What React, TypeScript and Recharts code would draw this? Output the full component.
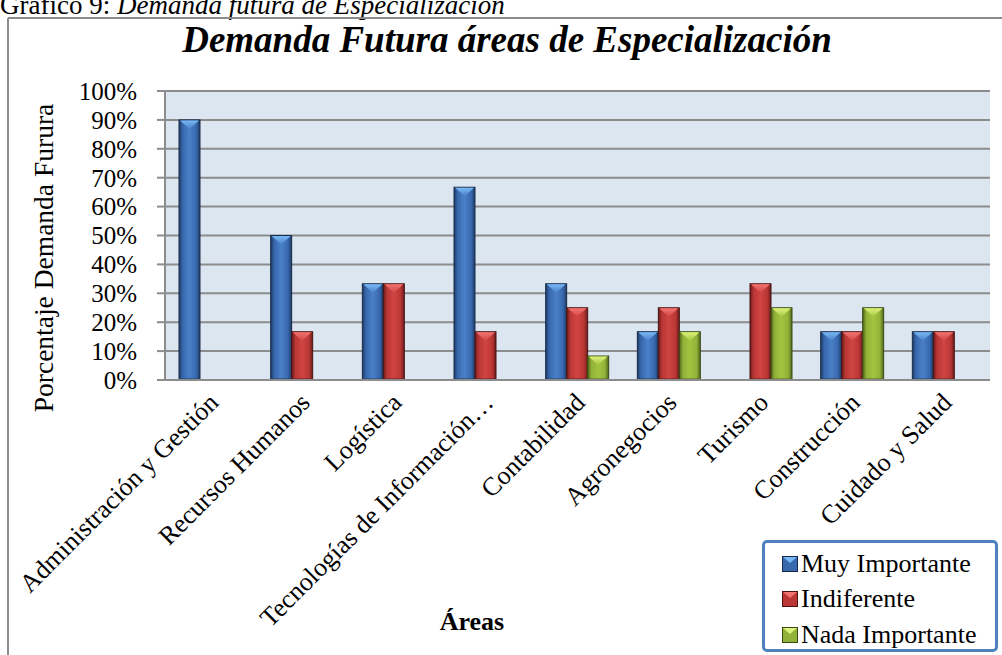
import React from 'react';
import { BarChart, Bar, XAxis, YAxis, CartesianGrid, Legend } from 'recharts';

const categories = [
  'Administración y Gestión',
  'Recursos Humanos',
  'Logística',
  'Tecnologías de Información…',
  'Contabilidad',
  'Agronegocios',
  'Turismo',
  'Construcción',
  'Cuidado y Salud',
];
const muyImportante = [90, 50, 33.3, 66.7, 33.3, 16.7, 0, 16.7, 16.7];
const indiferente = [0, 16.7, 33.3, 16.7, 25, 25, 33.3, 16.7, 16.7];
const nadaImportante = [0, 0, 0, 0, 8.3, 16.7, 25, 25, 0];
const yTicks = [0, 10, 20, 30, 40, 50, 60, 70, 80, 90, 100];
const seriesNames = ['Muy Importante', 'Indiferente', 'Nada Importante'];

const data = categories.map((area, i) => ({
  area,
  muy: muyImportante[i],
  ind: indiferente[i],
  nada: nadaImportante[i],
}));

const FONT = '"Liberation Serif", "Times New Roman", serif';

const palettes: Record<string, { dark: string; mid: string; light: string; tip: string; edge: string }> = {
  blue: { dark: '#1E3C66', mid: '#3868AE', light: '#4A80C8', tip: '#78B8F4', edge: '#162A48' },
  red: { dark: '#6A1C1B', mid: '#BA3735', light: '#D04442', tip: '#F27472', edge: '#4A1312' },
  green: { dark: '#52661C', mid: '#90B238', light: '#A3C441', tip: '#DDF27A', edge: '#3A4A12' },
};

const makeShape = (key: string) => (props: any) => {
  const { x, y, width, height } = props;
  if (!height || height <= 0.5) return <g />;
  const p = palettes[key];
  const tri = Math.min(9, height);
  return (
    <g>
      <rect x={x} y={y} width={width} height={height} fill={`url(#body-${key})`} stroke={p.edge} strokeWidth={1} />
      <polygon
        points={`${x + 1},${y + 0.6} ${x + width - 1},${y + 0.6} ${x + width / 2},${y + tri}`}
        fill={`url(#tip-${key})`}
      />
      <rect x={x} y={y + height - 2} width={width} height={2} fill={p.dark} opacity={0.5} />
    </g>
  );
};

const XTick = (props: any) => {
  const { x, y, payload } = props;
  const ax = x + 9;
  const ay = y + 24;
  return (
    <text
      x={ax}
      y={ay}
      transform={`rotate(-45, ${ax}, ${ay})`}
      textAnchor="end"
      fontSize={26}
      fontFamily={FONT}
      fill="#000"
    >
      {payload.value}
    </text>
  );
};

const legendColors = ['blue', 'red', 'green'];

const LegendContent = () => (
  <div
    style={{
      width: 236,
      height: 112,
      boxSizing: 'border-box',
      border: '3px solid #4F81BD',
      borderRadius: 5,
      background: '#fff',
      paddingTop: 3,
      fontFamily: FONT,
      fontSize: 26,
      color: '#000',
    }}
  >
    {seriesNames.map((name, i) => {
      const p = palettes[legendColors[i]];
      return (
        <div key={name} style={{ display: 'flex', alignItems: 'center', height: 35.5, paddingLeft: 17 }}>
          <svg width={16} height={16} style={{ marginRight: 3 }}>
            <rect x={0.5} y={0.5} width={15} height={15} fill={p.mid} stroke={p.edge} strokeWidth={1} />
            <polygon points="1,1 15,1 8,7" fill={p.tip} />
          </svg>
          <span style={{ lineHeight: '30px' }}>{name}</span>
        </div>
      );
    })}
  </div>
);

const Gradients = () => (
  <defs>
    {Object.keys(palettes).map((k) => {
      const p = palettes[k];
      return (
        <React.Fragment key={k}>
          <linearGradient id={`body-${k}`} x1="0" y1="0" x2="1" y2="0">
            <stop offset="0" stopColor={p.dark} />
            <stop offset="0.18" stopColor={p.mid} />
            <stop offset="0.5" stopColor={p.light} />
            <stop offset="0.82" stopColor={p.mid} />
            <stop offset="1" stopColor={p.dark} />
          </linearGradient>
          <linearGradient id={`tip-${k}`} x1="0" y1="0" x2="0" y2="1">
            <stop offset="0" stopColor={p.tip} />
            <stop offset="1" stopColor={p.light} />
          </linearGradient>
        </React.Fragment>
      );
    })}
  </defs>
);

export default function App() {
  return (
    <div style={{ position: 'absolute', left: 0, top: 0, width: 1002, height: 655, overflow: 'hidden', background: '#fff' }}>
      <BarChart
        width={1002}
        height={655}
        data={data}
        margin={{ top: 91, right: 12, left: 0, bottom: 0 }}
        barCategoryGap={14}
        barGap={0}
      >
        <Gradients />
        <CartesianGrid
          horizontal
          vertical={false}
          stroke="#8C8C8C"
          strokeWidth={2}
          fill="#DCE6F1"
          fillOpacity={1}
        />
        <YAxis
          domain={[0, 100]}
          ticks={yTicks}
          interval={0}
          width={165}
          tickFormatter={(v: number) => `${v}%`}
          tick={{ fontSize: 25, fill: '#000', fontFamily: FONT }}
          tickSize={8}
          tickMargin={20}
          axisLine={{ stroke: '#8C8C8C', strokeWidth: 2 }}
          tickLine={{ stroke: '#8C8C8C', strokeWidth: 2 }}
        />
        <XAxis
          dataKey="area"
          height={275}
          interval={0}
          tick={<XTick />}
          tickLine={false}
          tickSize={0}
          tickMargin={0}
          axisLine={{ stroke: '#8C8C8C', strokeWidth: 2 }}
        />
        <Legend
          layout="vertical"
          align="center"
          verticalAlign="middle"
          content={<LegendContent />}
          wrapperStyle={{ position: 'absolute', left: 762, top: 540, width: 236, height: 112 }}
        />
        <Bar dataKey="muy" name={seriesNames[0]} fill="#3868AE" shape={makeShape('blue')} isAnimationActive={false} />
        <Bar dataKey="ind" name={seriesNames[1]} fill="#BA3735" shape={makeShape('red')} isAnimationActive={false} />
        <Bar dataKey="nada" name={seriesNames[2]} fill="#90B238" shape={makeShape('green')} isAnimationActive={false} />
      </BarChart>
      <svg
        width={1002}
        height={655}
        style={{ position: 'absolute', left: 0, top: 0, pointerEvents: 'none' }}
      >
        <text x={0} y={14} fontSize={27} fontFamily={FONT} fill="#000">
          Gráfico 9: <tspan fontStyle="italic">Demanda futura de Especialización</tspan>
        </text>
        <line x1={8} y1={18} x2={1002} y2={18} stroke="#8C8C8C" strokeWidth={2} />
        <line x1={8} y1={18} x2={8} y2={655} stroke="#8C8C8C" strokeWidth={2} />
        <text x={507} y={52} textAnchor="middle" fontSize={37} fontWeight="bold" fontStyle="italic" fontFamily={FONT} fill="#000">
          Demanda Futura áreas de Especialización
        </text>
        <text
          x={43}
          y={258}
          transform="rotate(-90, 43, 258)"
          textAnchor="middle"
          dominantBaseline="central"
          fontSize={27.5}
          fontFamily={FONT}
          fill="#000"
        >
          Porcentaje Demanda Furura
        </text>
        <text x={472} y={630} textAnchor="middle" fontSize={26} fontWeight="bold" fontFamily={FONT} fill="#000">
          Áreas
        </text>
      </svg>
    </div>
  );
}
